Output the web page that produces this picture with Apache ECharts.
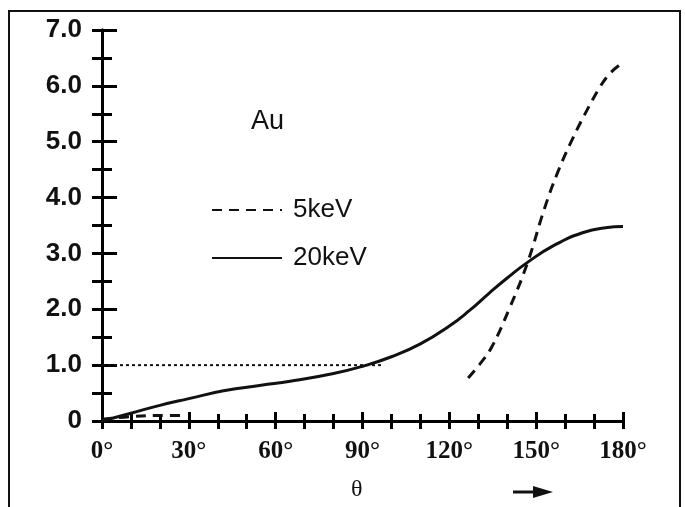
<!DOCTYPE html>
<html>
<head>
<meta charset="utf-8">
<script src="https://cdn.jsdelivr.net/npm/echarts@6/dist/echarts.min.js"></script>
<style>
  html, body { margin: 0; padding: 0; background: #fff; }
  #chart { width: 685px; height: 507px; }
</style>
</head>
<body>
<div id="chart"></div>
<script>
// 20keV, solid curve  [theta deg, value]
var angles20 = [0, 10, 20, 30, 42, 55, 65, 80, 90, 100, 110, 120, 127, 134, 140, 147, 156, 166, 174, 180];
var values20 = [0, 0.14, 0.28, 0.4, 0.54, 0.64, 0.71, 0.85, 0.98, 1.15, 1.38, 1.7, 1.98, 2.3, 2.56, 2.84, 3.14, 3.37, 3.46, 3.48];

// 5keV, dashed curve (low piece near baseline, then steep rise)
var angles5 = [0, 10, 20, 28, 60, 126.5, 130.4, 134.5, 140.8, 147, 152.9, 157.5, 162.1, 166.7, 172.4, 176, 179.5];
var values5 = [0.03, 0.08, 0.1, 0.1, null, 0.77, 1.01, 1.31, 2.02, 2.83, 3.81, 4.46, 5.0, 5.48, 6.01, 6.25, 6.4];

// dotted reference at 1.0
var anglesRef = [0, 97];
var valuesRef = [1, 1];

var yTicks = ['0', '1.0', '2.0', '3.0', '4.0', '5.0', '6.0', '7.0'];

function pairs(xs, ys) {
    return xs.map(function (x, i) { return [x, ys[i]]; });
}

var option = {
    backgroundColor: '#fff',
    animation: false,
    grid: {
        left: 102,
        right: 62,
        top: 30,
        bottom: 86
    },
    legend: {
        orient: 'vertical',
        left: 206,
        top: 192,
        itemWidth: 70,
        itemHeight: 20,
        itemGap: 22,
        data: ['5keV', '20keV'],
        itemStyle: { opacity: 0 },
        textStyle: {
            fontFamily: 'Liberation Sans',
            fontSize: 26,
            color: '#111',
            padding: [0, 0, 0, 6]
        }
    },
    xAxis: [{
        type: 'value',
        position: 'bottom',
        min: 0,
        max: 180,
        interval: 30,
        splitLine: { show: false },
        axisLine: { lineStyle: { color: '#000', width: 3 } },
        axisTick: { inside: true, length: 9, lineStyle: { color: '#000', width: 3 } },
        minorTick: { show: true, splitNumber: 3, length: 7, lineStyle: { color: '#000', width: 3 } },
        axisLabel: {
            margin: 18,
            fontFamily: 'Liberation Serif',
            fontWeight: 'bold',
            fontSize: 25,
            color: '#111',
            formatter: function (v) { return v + '°'; }
        }
    }, {
        type: 'value',
        position: 'top',
        min: 0,
        max: 180,
        interval: 10,
        splitLine: { show: false },
        axisLine: { lineStyle: { color: '#000', width: 3 } },
        axisTick: { inside: true, length: 8, lineStyle: { color: '#000', width: 3 } },
        axisLabel: { show: false }
    }],
    yAxis: [{
        type: 'value',
        position: 'left',
        min: 0,
        max: 7,
        interval: 1,
        splitLine: { show: false },
        axisLine: { lineStyle: { color: '#000', width: 3 } },
        axisTick: { inside: true, length: 15, lineStyle: { color: '#000', width: 3 } },
        minorTick: { show: true, splitNumber: 2, length: 10, lineStyle: { color: '#000', width: 3 } },
        axisLabel: {
            margin: 20,
            fontFamily: 'Liberation Sans',
            fontWeight: 'bold',
            fontSize: 26,
            color: '#111',
            formatter: function (v) { return yTicks[Math.round(v)]; }
        }
    }, {
        type: 'value',
        position: 'right',
        min: 0,
        max: 7,
        interval: 0.5,
        splitLine: { show: false },
        axisLine: { lineStyle: { color: '#000', width: 3 } },
        axisTick: { inside: true, length: 10, lineStyle: { color: '#000', width: 3 } },
        axisLabel: { show: false }
    }],
    graphic: [
        // outer frame of the figure
        { type: 'rect', shape: { x: 9, y: 11, width: 671, height: 520 }, style: { fill: null, stroke: '#111', lineWidth: 2 }, z: 1 },
        // Au label
        { type: 'text', left: 251, top: 108, style: { text: 'Au', font: '27px "Liberation Sans"', fill: '#111' } },
        // axis title and arrow
        { type: 'text', left: 351, top: 478, style: { text: 'θ', font: '24px "Liberation Serif"', fill: '#111' } },
        { type: 'line', shape: { x1: 513, y1: 492, x2: 538, y2: 492 }, style: { stroke: '#111', lineWidth: 3 } },
        { type: 'polygon', shape: { points: [[533, 486], [553, 492], [533, 498]] }, style: { fill: '#111' } }
    ],
    series: [{
        name: '5keV',
        type: 'line',
        smooth: 0.4,
        symbol: 'none',
        connectNulls: false,
        data: pairs(angles5, values5),
        lineStyle: { color: '#111', width: 3, type: [10, 7] },
        itemStyle: { color: '#111' }
    }, {
        name: '20keV',
        type: 'line',
        smooth: 0.5,
        symbol: 'none',
        data: pairs(angles20, values20),
        lineStyle: { color: '#111', width: 3 },
        itemStyle: { color: '#111' }
    }, {
        name: 'ref',
        type: 'line',
        symbol: 'none',
        data: pairs(anglesRef, valuesRef),
        lineStyle: { color: '#111', width: 2, type: [3, 3] }
    }]
};

var myChart = echarts.init(document.getElementById('chart'));
myChart.setOption(option);
</script>
</body>
</html>
